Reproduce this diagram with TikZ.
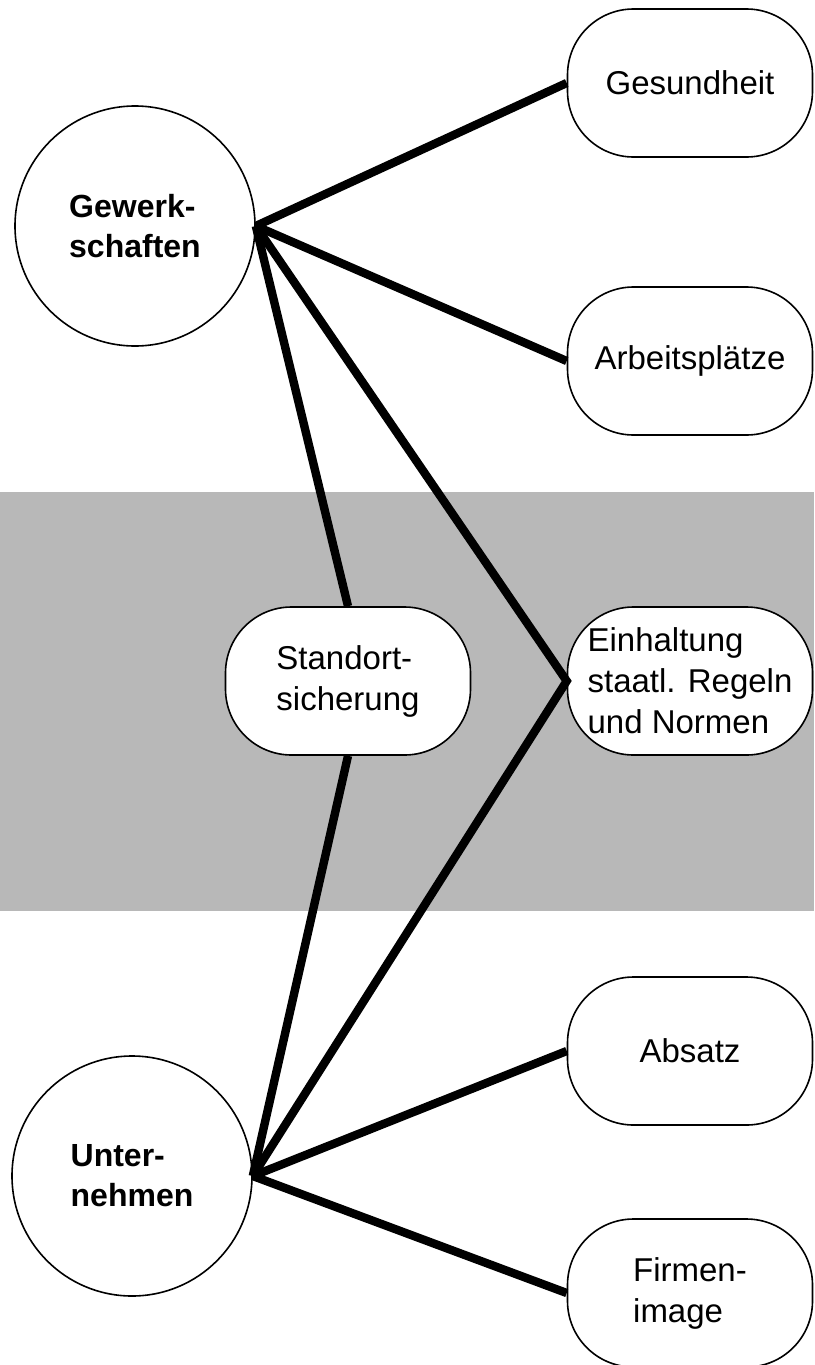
\documentclass[tikz,border=0pt]{standalone}
\usepackage{fontspec}
\setmainfont{Liberation Sans}
\begin{document}
\begin{tikzpicture}[x=0.5pt,y=-0.5pt,
    partei/.style={circle,draw,thick,fill=white,minimum size=120pt,inner sep=0pt,
      align=left,font=\fontsize{16}{20}\selectfont\bfseries},
    ziel/.style={rounded corners=33pt,draw,thick,fill=white,minimum width=122.5pt,
      minimum height=74pt,inner sep=0pt,align=left,font=\fontsize{16.5}{20.5}\selectfont},
    link/.style={line width=4.2pt,line join=miter}]
  \useasboundingbox (0,0) rectangle (814,1365);
  \clip (0,0) rectangle (814,1365);
  % grauer Bereich
  \fill[black!28] (0,492) rectangle (814,911);
  % Akteure
  \node[partei] (gew) at (135,226) {Gewerk-\\schaften};
  \node[partei] (unt) at (132,1176) {Unter-\\nehmen};
  % Interessen
  \node[ziel] (ges) at (690,83) {Gesundheit};
  \node[ziel] (arb) at (690,361) {Arbeitspl\"atze};
  \node[ziel] (std) at (348,681) {Standort-\\sicherung};
  \node[ziel] (ein) at (690,681) {Einhaltung\\staatl. Regeln\\und Normen};
  \node[ziel] (abs) at (690,1051) {Absatz};
  \node[ziel] (fir) at (690,1293) {Firmen-\\image};
  % Verbindungen
  \draw[link] (gew.east) -- (ges.west);
  \draw[link] (gew.east) -- (arb.west);
  \draw[link] (gew.east) -- (std.north);
  \draw[link] (std.south) -- (unt.east);
  \draw[link] (gew.east) -- (ein.west) -- (unt.east);
  \draw[link] (unt.east) -- (abs.west);
  \draw[link] (unt.east) -- (fir.west);
\end{tikzpicture}
\end{document}
